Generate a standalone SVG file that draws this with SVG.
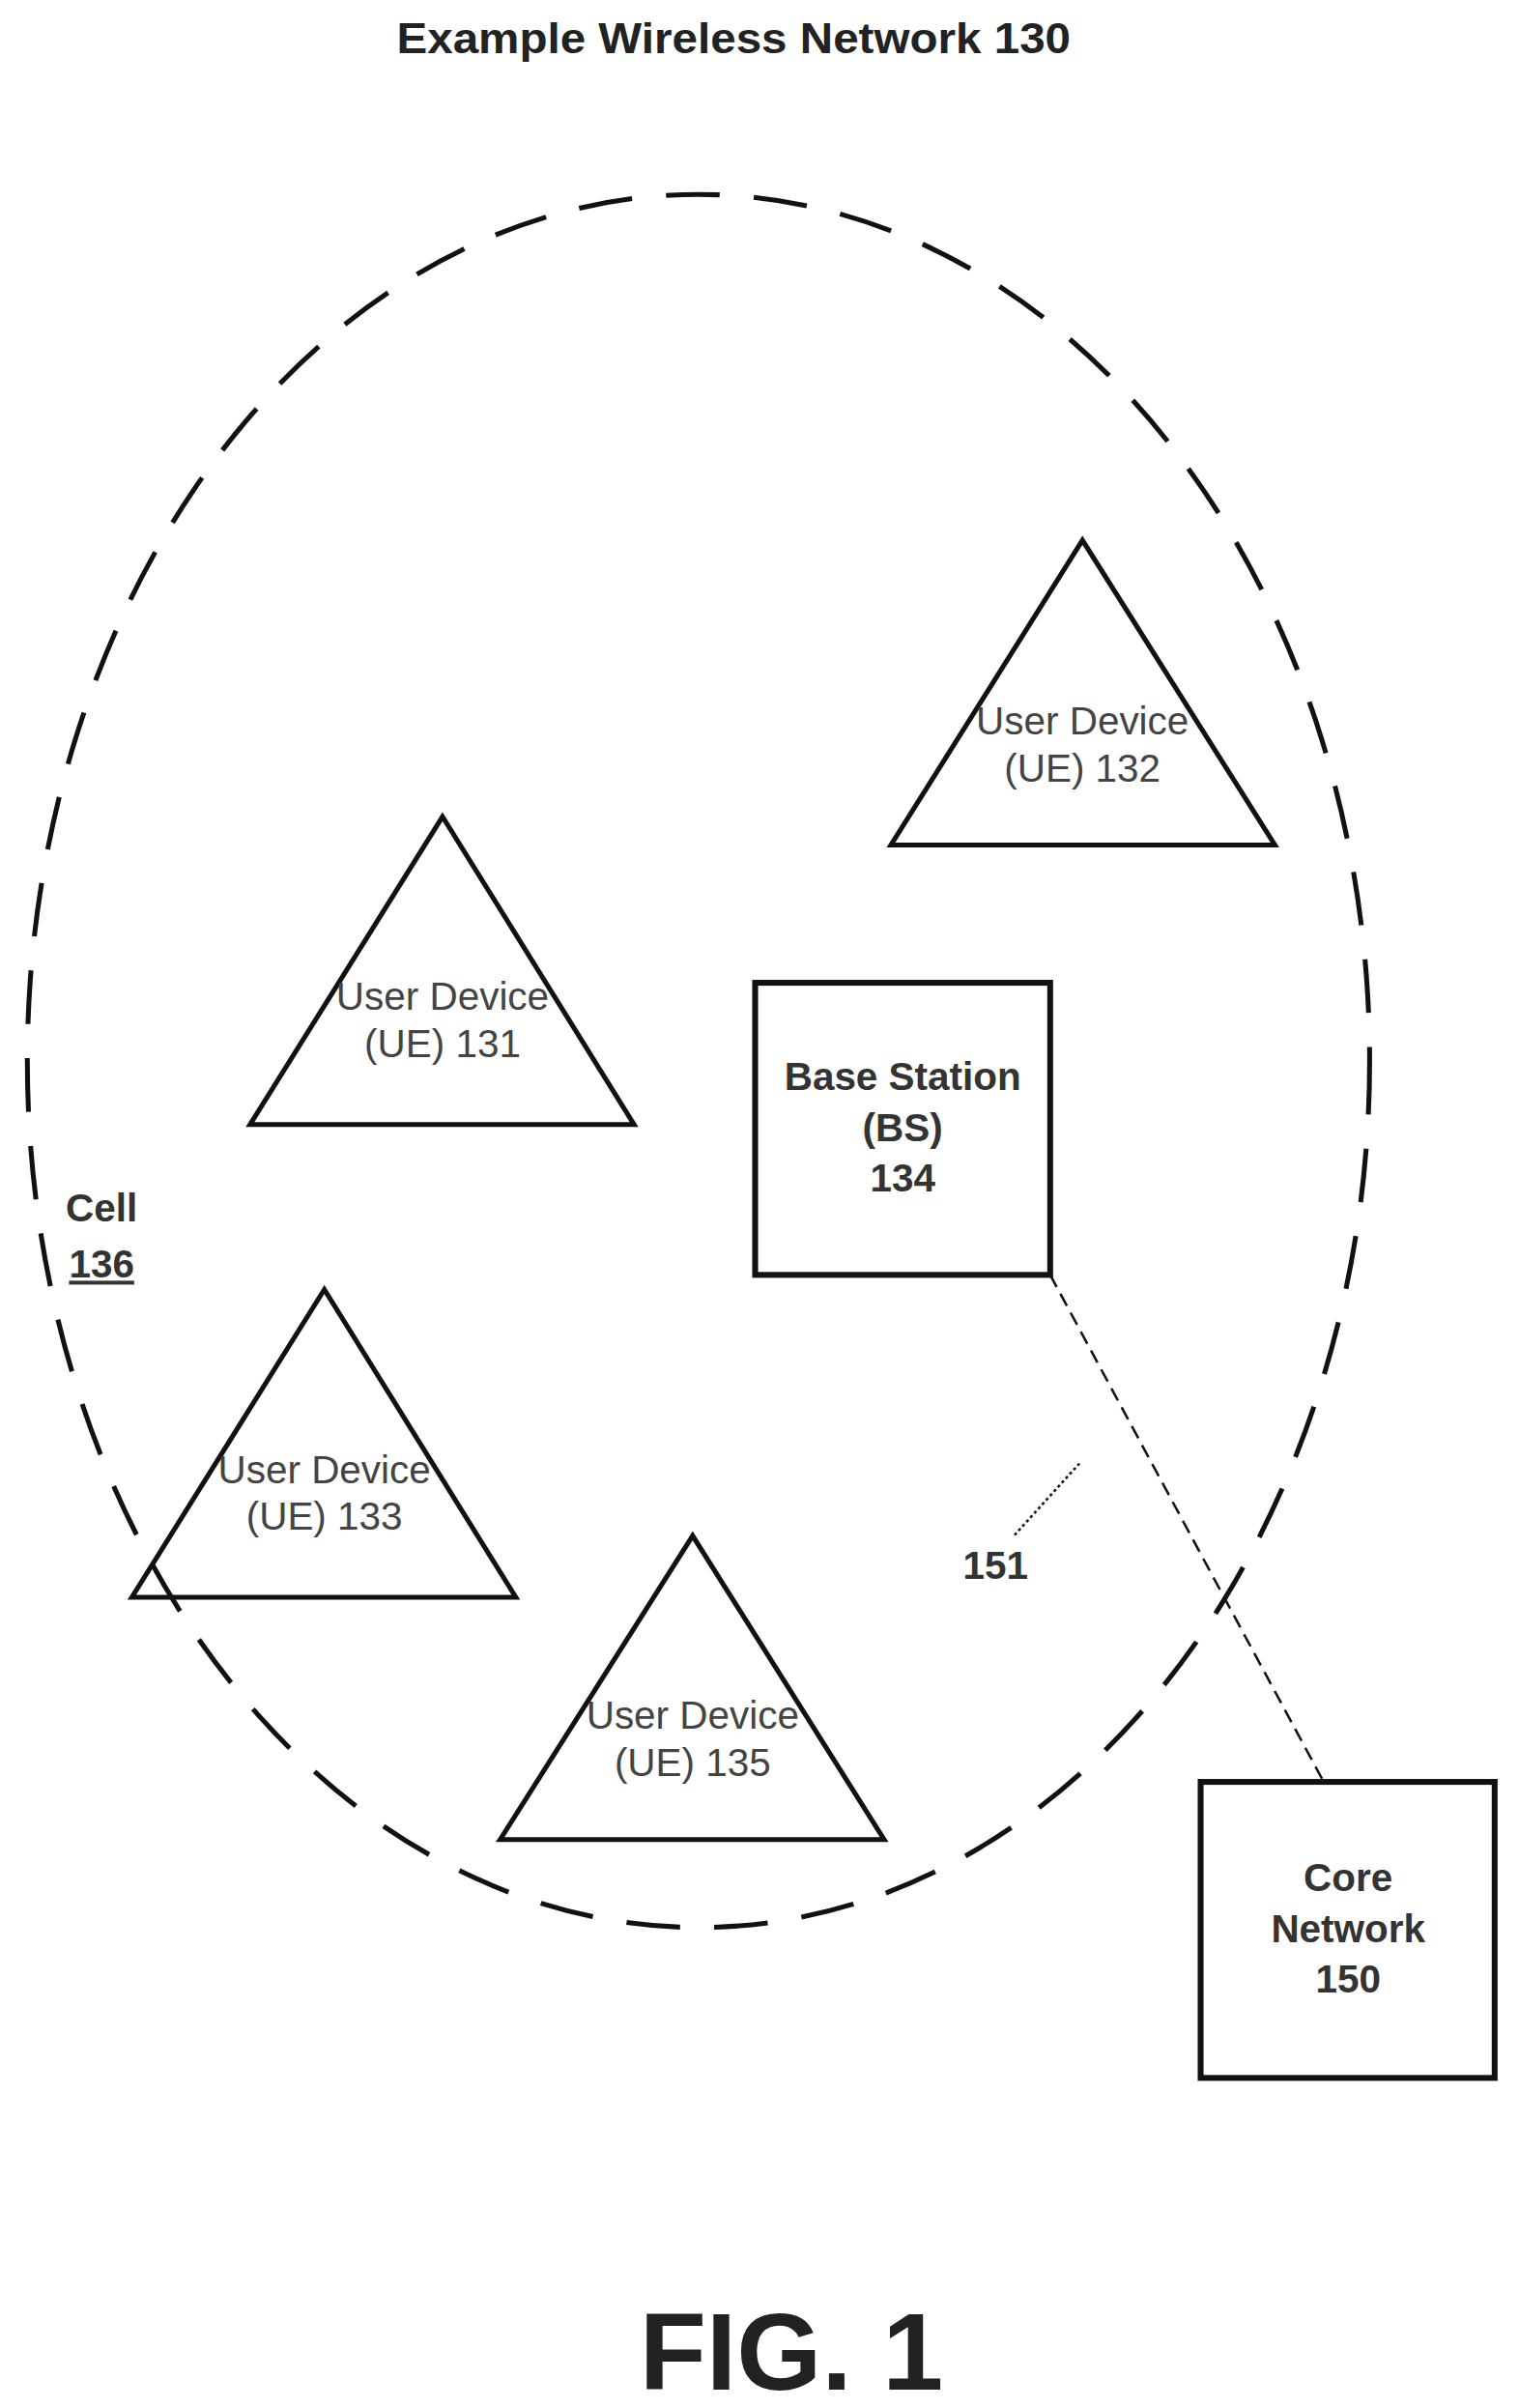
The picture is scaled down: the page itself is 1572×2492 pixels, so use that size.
<svg xmlns="http://www.w3.org/2000/svg" width="1572" height="2492" viewBox="0 0 1572 2492">
<style>
text{font-family:"Liberation Sans",Arial,sans-serif;fill:#222;text-anchor:middle}
.ue{fill:none;stroke:#111;stroke-width:5}
.box{fill:#fff;stroke:#111;stroke-width:6}
.t{font-size:40px;fill:#444}
.b{font-size:40px;font-weight:bold;fill:#333}
</style>
<rect width="1572" height="2492" fill="#fff"/>
<g transform="scale(1.011)">
<text x="751" y="54" font-size="44" font-weight="bold" fill="#444" textLength="690" lengthAdjust="spacingAndGlyphs">Example Wireless Network 130</text>
<g id="cell136">
<ellipse cx="715" cy="1086" rx="687" ry="887" fill="none" stroke="#111" stroke-width="5" stroke-dasharray="55,35"/>
<text x="104" y="1250" class="b">Cell</text>
<text x="104" y="1308" class="b" style="text-decoration:underline">136</text>
</g>
<g id="connectors">
<line x1="1075" y1="1305" x2="1355" y2="1824" stroke="#111" stroke-width="2.5" stroke-dasharray="14,8"/>
<line x1="1105" y1="1498" x2="1038" y2="1572" stroke="#111" stroke-width="2.5" stroke-dasharray="3,3"/>
<text x="1019" y="1616" class="b">151</text>
</g>
<g id="ue132"><polygon class="ue" points="1108,553 912,865 1305,865"/><text class="t" x="1108" y="752">User Device</text><text class="t" x="1108" y="800">(UE)  132</text></g>
<g id="ue131"><polygon class="ue" points="453,836 256,1151 649,1151"/><text class="t" x="453" y="1034">User Device</text><text class="t" x="453" y="1082">(UE)  131</text></g>
<g id="ue133"><polygon class="ue" points="332,1320 135,1635 528,1635"/><text class="t" x="332" y="1518">User Device</text><text class="t" x="332" y="1566">(UE)  133</text></g>
<g id="ue135"><polygon class="ue" points="709,1572 512,1883 905,1883"/><text class="t" x="709" y="1770">User Device</text><text class="t" x="709" y="1818">(UE)  135</text></g>
<g id="bs134"><rect class="box" x="773" y="1006" width="302" height="299"/><text class="b" x="924" y="1116">Base Station</text><text class="b" x="924" y="1168">(BS)</text><text class="b" x="924" y="1220">134</text></g>
<g id="core150"><rect class="box" x="1229" y="1824" width="301" height="303"/><text class="b" x="1380" y="1936">Core</text><text class="b" x="1380" y="1988">Network</text><text class="b" x="1380" y="2040">150</text></g>
<text x="810" y="2446" font-size="112" font-weight="bold">FIG. 1</text>
</g>
</svg>
